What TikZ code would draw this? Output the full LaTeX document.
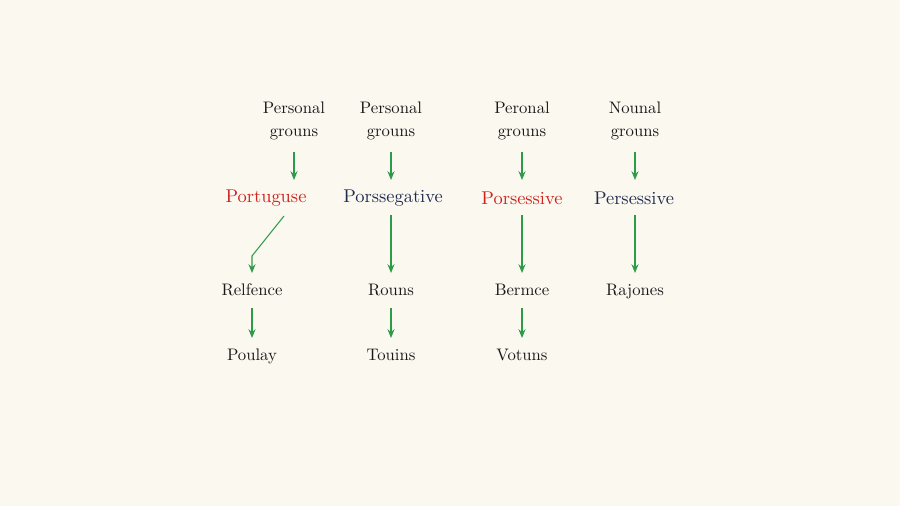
\documentclass[tikz,border=0pt]{standalone}
\usepackage{tikz}
\usetikzlibrary{arrows.meta}
\definecolor{paper}{HTML}{FBF8EF}
\definecolor{arrowgreen}{HTML}{2E9B4A}
\definecolor{wordred}{HTML}{D0211E}
\definecolor{wordnavy}{HTML}{1F2A4F}
\tikzset{word/.style={font=\fontsize{9.5}{13}\selectfont, text=black!90, align=center, inner sep=1pt}}

\begin{document}
\begin{tikzpicture}[x=0.02cm, y=-0.02cm,
                    head/.style={word, font=\fontsize{10.5}{12}\selectfont},
                    link/.style={draw=arrowgreen, line width=0.6pt, -{Stealth[length=5pt, width=4pt]}}]
    \fill[paper] (0,0) rectangle (900,506);
    \useasboundingbox (0,0) rectangle (900,506);
    % top row
    \node[word] (t1) at (294,121) {Personal\\grouns};
    \node[word] (t2) at (391,121) {Personal\\grouns};
    \node[word] (t3) at (522,121) {Peronal\\grouns};
    \node[word] (t4) at (635,121) {Nounal\\grouns};
    % second row
    \node[head, text=wordred] (p1) at (266,198) {Portuguse};
    \node[head, text=wordnavy] (p2) at (393,198) {Porssegative};
    \node[head, text=wordred] (p3) at (522,198) {Porsessive};
    \node[head, text=wordnavy] (p4) at (634,198) {Persessive};
    % third row
    \node[word] (r1) at (252,290) {Relfence};
    \node[word] (r2) at (391,290) {Rouns};
    \node[word] (r3) at (522,290) {Bermce};
    \node[word] (r4) at (635,292) {Rajones};
    % bottom row
    \node[word] (b1) at (252,356) {Poulay};
    \node[word] (b2) at (391,355) {Touins};
    \node[word] (b3) at (522,355) {Votuns};
    \coordinate (k1) at (252,256);
    \coordinate (s1) at (284,216);
    \foreach \c in {1,2,3,4}{
      \draw[link] (t\c.south |- 0,152) -- (t\c.south |- 0,180);
    }
    \draw[link] (s1) -- (k1) -- (r1.north |- 0,273);
    \foreach \c in {2,3,4}{
      \draw[link] (r\c.north |- 0,215) -- (r\c.north |- 0,273);
    }
    \foreach \c in {1,2,3}{
      \draw[link] (r\c.south |- 0,308) -- (b\c.north |- 0,338);
    }
\end{tikzpicture}
\end{document}
